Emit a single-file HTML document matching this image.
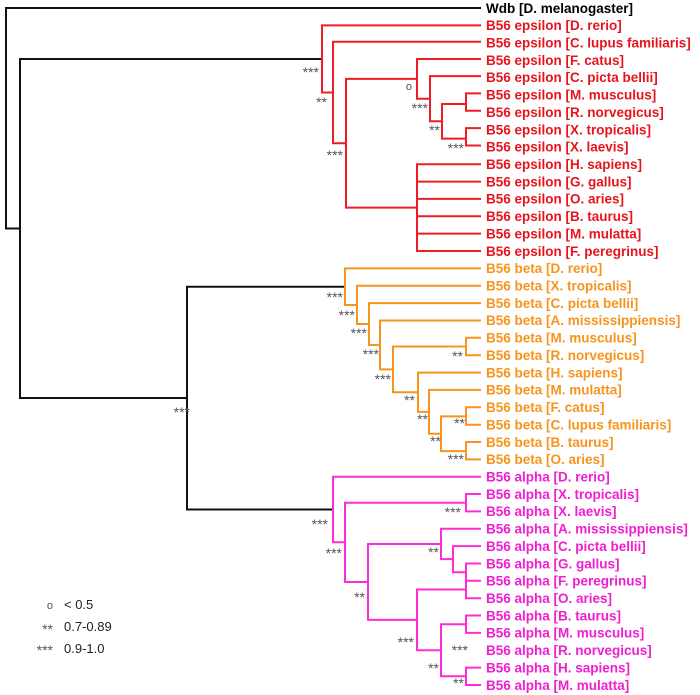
<!DOCTYPE html>
<html><head><meta charset="utf-8"><style>
body{margin:0;background:#fff;}
svg{display:block;}
.l{font-family:"Liberation Sans",Arial,sans-serif;font-weight:bold;font-size:13.5px;}
.s{font-family:"Liberation Sans",Arial,sans-serif;font-size:14px;fill:#555;}
.g{font-family:"Liberation Sans",Arial,sans-serif;font-size:13px;fill:#222;}
</style></head><body>
<svg width="700" height="695" viewBox="0 0 700 695" xmlns="http://www.w3.org/2000/svg">
<g fill="none" stroke-width="2" stroke-linecap="square">
<g stroke="#111">
<path d="M6,8 V228.5 H20 M6,8 H480 M20,59 V398 M20,59 H322 M20,398 H187 M187,286.7 V509.5 M187,286.7 H345 M187,509.5 H333"/>
</g>
<g stroke="#ee1c24">
<path d="M322,25.4 V92.5 M322,25.4 H480 M322,92.5 H333 M333,41.7 V143.2 M333,41.7 H480 M333,143.2 H346 M346,78.9 V207.6 M346,78.9 H417 M346,207.6 H417
M417,59 V98.7 M417,59 H480 M417,98.7 H430 M430,76.1 V121.3 M430,76.1 H480 M430,121.3 H442 M442,104 V138.6 M442,104 H466 M442,138.6 H466
M466,93.4 V110.8 M466,93.4 H480 M466,110.8 H480 M466,128.1 V145.5 M466,128.1 H480 M466,145.5 H480
M417,164.2 V251 M417,164.2 H480 M417,181.6 H480 M417,198.9 H480 M417,216.3 H480 M417,233.6 H480 M417,251 H480"/>
</g>
<g stroke="#f7941d">
<path d="M345,268.4 V305 M345,268.4 H480 M345,305 H357 M357,285.7 V324 M357,285.7 H480 M357,324 H369 M369,303.1 V345 M369,303.1 H480 M369,345 H380
M380,320.5 V369.4 M380,320.5 H480 M380,369.4 H393 M393,346.5 V392.2 M393,346.5 H466 M393,392.2 H418 M466,337.8 V355.2 M466,337.8 H480 M466,355.2 H480
M418,372.6 V411.9 M418,372.6 H480 M418,411.9 H429 M429,389.9 V433.8 M429,389.9 H480 M429,433.8 H441 M441,416.4 V451.1 M441,416.4 H466 M441,451.1 H466
M466,407.3 V424.7 M466,407.3 H480 M466,424.7 H480 M466,442 V459.4 M466,442 H480 M466,459.4 H480"/>
</g>
<g stroke="#ff2bd6">
<path d="M333,476.7 V542.3 M333,476.7 H480 M333,542.3 H345 M345,502.7 V582 M345,502.7 H466 M345,582 H368 M466,494 V511.4 M466,494 H480 M466,511.4 H480
M368,544 V619.9 M368,544 H441 M368,619.9 H417 M441,528.8 V559.1 M441,528.8 H480 M441,559.1 H453 M453,546.1 V572.2 M453,546.1 H480 M453,572.2 H466
M466,563.5 V580.8 M466,563.5 H480 M466,580.8 H480
M417,589.5 V650.3 M417,589.5 H466 M417,650.3 H441 M466,580.8 V598.2 M466,598.2 H480
M441,624.2 V676.3 M441,624.2 H466 M441,676.3 H466 M466,615.5 V632.9 M466,615.5 H480 M466,632.9 H480 M466,667.6 V685 M466,667.6 H480 M466,685 H480"/>
</g>
</g>

<g class="l">
<text x="486" y="12.8" fill="#000">Wdb [D. melanogaster]</text>
<g fill="#e8141c">
<text x="486" y="30.2">B56 epsilon [D. rerio]</text>
<text x="486" y="47.5">B56 epsilon [C. lupus familiaris]</text>
<text x="486" y="64.9">B56 epsilon [F. catus]</text>
<text x="486" y="82.2">B56 epsilon [C. picta bellii]</text>
<text x="486" y="99.6">B56 epsilon [M. musculus]</text>
<text x="486" y="117">B56 epsilon [R. norvegicus]</text>
<text x="486" y="134.3">B56 epsilon [X. tropicalis]</text>
<text x="486" y="151.7">B56 epsilon [X. laevis]</text>
<text x="486" y="169">B56 epsilon [H. sapiens]</text>
<text x="486" y="186.4">B56 epsilon [G. gallus]</text>
<text x="486" y="203.7">B56 epsilon [O. aries]</text>
<text x="486" y="221.1">B56 epsilon [B. taurus]</text>
<text x="486" y="238.4">B56 epsilon [M. mulatta]</text>
<text x="486" y="255.8">B56 epsilon [F. peregrinus]</text>
</g>
<g fill="#f7941d">
<text x="486" y="273.2">B56 beta [D. rerio]</text>
<text x="486" y="290.5">B56 beta [X. tropicalis]</text>
<text x="486" y="307.9">B56 beta [C. picta bellii]</text>
<text x="486" y="325.2">B56 beta [A. mississippiensis]</text>
<text x="486" y="342.6">B56 beta [M. musculus]</text>
<text x="486" y="360">B56 beta [R. norvegicus]</text>
<text x="486" y="377.3">B56 beta [H. sapiens]</text>
<text x="486" y="394.7">B56 beta [M. mulatta]</text>
<text x="486" y="412.1">B56 beta [F. catus]</text>
<text x="486" y="429.4">B56 beta [C. lupus familiaris]</text>
<text x="486" y="446.8">B56 beta [B. taurus]</text>
<text x="486" y="464.2">B56 beta [O. aries]</text>
</g>
<g fill="#f01ed2">
<text x="486" y="481.5">B56 alpha [D. rerio]</text>
<text x="486" y="498.8">B56 alpha [X. tropicalis]</text>
<text x="486" y="516.2">B56 alpha [X. laevis]</text>
<text x="486" y="533.6">B56 alpha [A. mississippiensis]</text>
<text x="486" y="550.9">B56 alpha [C. picta bellii]</text>
<text x="486" y="568.3">B56 alpha [G. gallus]</text>
<text x="486" y="585.6">B56 alpha [F. peregrinus]</text>
<text x="486" y="603">B56 alpha [O. aries]</text>
<text x="486" y="620.3">B56 alpha [B. taurus]</text>
<text x="486" y="637.7">B56 alpha [M. musculus]</text>
<text x="486" y="655.1">B56 alpha [R. norvegicus]</text>
<text x="486" y="672.4">B56 alpha [H. sapiens]</text>
<text x="486" y="689.8">B56 alpha [M. mulatta]</text>
</g>
</g>

<g class="s" text-anchor="end">
<text x="319" y="77">***</text>
<text x="327" y="107">**</text>
<text x="343" y="160">***</text>
<text x="412" y="90" style="font-size:11px">o</text>
<text x="428" y="113">***</text>
<text x="440" y="135">**</text>
<text x="464" y="153">***</text>
<text x="190" y="417">***</text>
<text x="343" y="302">***</text>
<text x="355" y="320">***</text>
<text x="367" y="338">***</text>
<text x="379" y="359">***</text>
<text x="391" y="384">***</text>
<text x="463" y="361">**</text>
<text x="415" y="405">**</text>
<text x="428" y="424">**</text>
<text x="441" y="446">**</text>
<text x="465" y="428">**</text>
<text x="464" y="464">***</text>
<text x="328" y="529">***</text>
<text x="461" y="517">***</text>
<text x="342" y="558">***</text>
<text x="439" y="557">**</text>
<text x="365" y="602">**</text>
<text x="414" y="647">***</text>
<text x="468" y="655">***</text>
<text x="439" y="673">**</text>
<text x="464" y="688">**</text>
<text x="53" y="609" style="font-size:11px">o</text>
<text x="53" y="634">**</text>
<text x="53" y="655">***</text>
</g>
<text class="g" x="64" y="609">&lt; 0.5</text>
<text class="g" x="64" y="631">0.7-0.89</text>
<text class="g" x="64" y="653">0.9-1.0</text>
</svg>
</body></html>
